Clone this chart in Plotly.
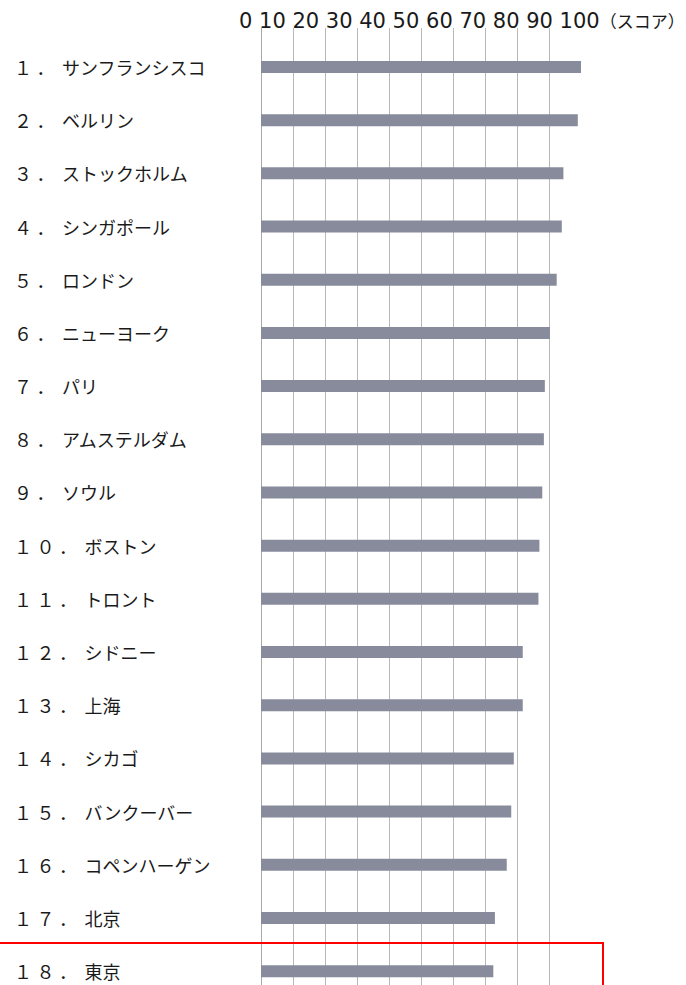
import plotly.graph_objects as go

ranks = ["１", "２", "３", "４", "５", "６", "７", "８", "９", "１０",
         "１１", "１２", "１３", "１４", "１５", "１６", "１７", "１８"]
cities = ["サンフランシスコ", "ベルリン", "ストックホルム", "シンガポール", "ロンドン",
          "ニューヨーク", "パリ", "アムステルダム", "ソウル", "ボストン",
          "トロント", "シドニー", "上海", "シカゴ", "バンクーバー",
          "コペンハーゲン", "北京", "東京"]
scores = [100.3, 99.0, 94.5, 94.0, 92.4, 90.3, 88.7, 88.4, 87.9, 87.0,
          86.7, 81.8, 81.8, 79.0, 78.2, 76.8, 73.1, 72.6]
tick_values = [0, 10, 20, 30, 40, 50, 60, 70, 80, 90, 100]
unit_label = "（スコア）"

SP = "\u2005"
labels = ["".join(ch + SP for ch in (r + "．")) + "\u2006" + c for r, c in zip(ranks, cities)]

W, H = 686, 985
L, R, T, B = 261, 105, 28, 0
plot_w = W - L - R

fig = go.Figure()
fig.add_trace(go.Bar(
    x=scores, y=labels, orientation="h",
    marker=dict(color="#878b9c", line=dict(width=0)),
    width=0.226, hoverinfo="x+y",
))

n = len(labels)
fig.update_layout(
    width=W, height=H,
    margin=dict(l=L, r=R, t=T, b=B),
    paper_bgcolor="white", plot_bgcolor="white",
    showlegend=False,
    xaxis=dict(range=[0, 100], tickvals=tick_values, showticklabels=False,
               showgrid=True, gridcolor="#b8b8b8", gridwidth=1,
               zeroline=True, zerolinecolor="#a8a8a8", zerolinewidth=1,
               showline=False, ticks=""),
    yaxis=dict(type="category", range=[n - 1 + 0.26, -0.733],
               showticklabels=False, showgrid=False, zeroline=False,
               showline=False, ticks=""),
)

# category labels (left-aligned)
for lab in labels:
    fig.add_annotation(
        x=(12 - L) / plot_w, xref="paper", xanchor="left",
        y=lab, yref="y", yanchor="middle",
        text=lab, showarrow=False,
        font=dict(family="Noto Sans CJK JP", size=18, color="#1a1a1a"),
    )

# top scale text
scale_text = " ".join(str(v) for v in tick_values)
fig.add_annotation(
    x=(237 - L) / plot_w, xref="paper", xanchor="left",
    y=1 + (T - 20) / (H - T - B), yref="paper", yanchor="middle",
    text=scale_text + f"<span style='font-family:Noto Sans CJK JP;font-size:17px'>{unit_label}</span>",
    showarrow=False,
    font=dict(family="DejaVu Sans", size=21, color="#1a1a1a"),
)

# red highlight box around Tokyo
fig.add_shape(
    type="rect", xref="paper", yref="y",
    x0=-0.9, x1=(603 - L) / plot_w,
    y0=n - 1.5 - 0.03, y1=n + 2,
    line=dict(color="#ff0000", width=2), fillcolor="rgba(0,0,0,0)",
    layer="above",
)

fig.write_html("out.html")
